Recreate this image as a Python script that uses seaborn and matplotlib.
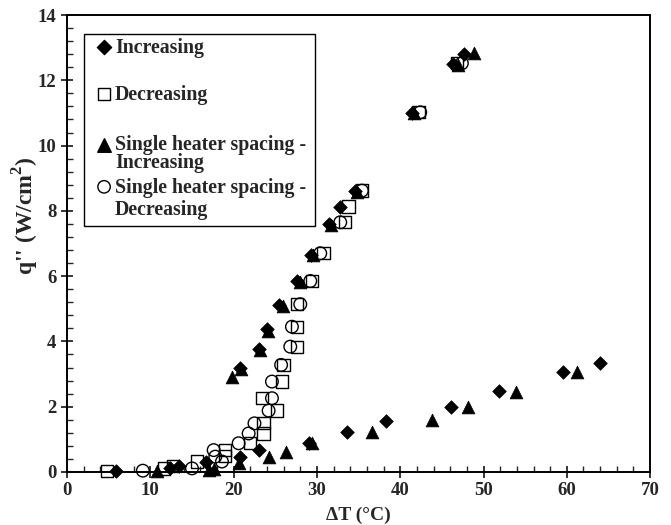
import matplotlib
matplotlib.use("Agg")
import matplotlib.pyplot as plt
import seaborn as sns
import pandas as pd
from matplotlib.patches import Rectangle
from matplotlib.ticker import MultipleLocator

# ---- data ----
inc_x = [5.9, 12.4, 13.4, 16.7, 20.8, 23.1, 29.0, 33.6, 38.3, 46.1, 51.9, 59.5, 64.0,
         20.8, 23.1, 24.0, 25.4, 27.6, 29.3, 31.4, 32.8, 34.6, 41.4, 46.3, 47.6]
inc_y = [0.04, 0.11, 0.18, 0.30, 0.47, 0.67, 0.90, 1.21, 1.57, 2.0, 2.48, 3.05, 3.33,
         3.2, 3.78, 4.38, 5.12, 5.85, 6.65, 7.6, 8.12, 8.6, 11.0, 12.5, 12.8]

dec_x = [4.8, 11.6, 12.7, 15.6, 19.0, 19.0, 22.0, 23.6, 23.6, 23.4, 25.2, 25.8, 26.0, 27.6, 27.6,
         27.6, 29.4, 30.8, 33.4, 33.8, 35.4, 42.2, 46.8]
dec_y = [0.04, 0.11, 0.18, 0.32, 0.5, 0.67, 0.88, 1.18, 1.49, 2.26, 1.88, 2.77, 3.28, 3.84, 4.45,
         5.14, 5.85, 6.70, 7.65, 8.13, 8.62, 11.02, 12.52]

shi_x = [10.8, 17.1, 17.6, 20.6, 24.2, 26.3, 29.4, 36.6, 43.8, 48.1, 53.9, 61.2,
         19.8, 20.9, 23.2, 24.1, 25.9, 28.0, 29.5, 31.7, 34.8, 41.7, 46.9, 48.8]
shi_y = [0.02, 0.06, 0.1, 0.27, 0.46, 0.61, 0.89, 1.24, 1.59, 2.0, 2.46, 3.07,
         2.9, 3.15, 3.73, 4.32, 5.08, 5.82, 6.65, 7.57, 8.57, 11.0, 12.47, 12.85]

shd_x = [9.1, 15.0, 17.6, 17.8, 18.6, 20.6, 21.8, 22.5, 24.2, 24.6, 24.6, 25.7, 26.8, 27.0,
         28.0, 29.2, 30.4, 32.8, 35.4, 42.4, 47.4]
shd_y = [0.04, 0.11, 0.67, 0.47, 0.32, 0.88, 1.18, 1.49, 1.88, 2.26, 2.77, 3.28, 3.84, 4.45,
         5.14, 5.85, 6.70, 7.65, 8.62, 11.02, 12.52]

legend_labels = ["Increasing", "Decreasing",
                 "Single heater spacing -\nIncreasing",
                 "Single heater spacing -\nDecreasing"]
x_label = "\u0394T (\u00b0C)"
y_label = r"q'' (W/cm$^{\mathbf{2}}$)"

# ---- style ----
sns.set_style("ticks")
plt.rcParams["font.family"] = ["Liberation Serif", "DejaVu Serif"]
plt.rcParams["font.weight"] = "bold"
plt.rcParams["mathtext.fontset"] = "custom"
plt.rcParams["mathtext.bf"] = "Liberation Serif:bold"
plt.rcParams["mathtext.rm"] = "Liberation Serif:bold"

fig = plt.figure(figsize=(6.71, 5.25), dpi=100)
ax = fig.add_axes([0.0999, 0.101, 0.869, 0.8704])

styles = [
    (inc_x, inc_y, dict(marker="D", s=48, color="black", edgecolor="black", linewidth=0.5)),
    (dec_x, dec_y, dict(marker="s", s=78, facecolor="none", edgecolor="black", linewidth=1.0)),
    (shi_x, shi_y, dict(marker="^", s=85, color="black", edgecolor="black", linewidth=0.5)),
    (shd_x, shd_y, dict(marker="o", s=82, facecolor="none", edgecolor="black", linewidth=1.0)),
]
for (xs, ys, kw), lab in zip(styles, legend_labels):
    df = pd.DataFrame({"x": xs, "y": ys})
    sns.scatterplot(data=df, x="x", y="y", ax=ax, legend=False, zorder=3, clip_on=False, **kw)

ax.set_xlim(0, 70)
ax.set_ylim(0, 14)
ax.xaxis.set_major_locator(MultipleLocator(10))
ax.xaxis.set_minor_locator(MultipleLocator(2))
ax.yaxis.set_major_locator(MultipleLocator(2))
ax.yaxis.set_minor_locator(MultipleLocator(0.4))
ax.tick_params(which="major", direction="inout", length=9, width=1.3, labelsize=13.5,
               bottom=True, left=True, top=False, right=False, pad=3)
ax.tick_params(which="minor", direction="in", length=4, width=1.0,
               bottom=True, left=True, top=False, right=False)
for lbl in ax.get_xticklabels() + ax.get_yticklabels():
    lbl.set_fontweight("bold")
for sp in ax.spines.values():
    sp.set_visible(True)
    sp.set_linewidth(1.4)
    sp.set_color("black")

ax.set_xlabel(x_label, fontsize=14, fontweight="bold", labelpad=2)
ax.xaxis.set_label_coords(0.5, -0.075)
ax.set_ylabel(y_label, fontsize=17, fontweight="bold")
ax.yaxis.set_label_coords(-0.045, 0.56)

# ---- legend (drawn manually to match layout) ----
box = Rectangle((0.0297, 0.538), 0.3957, 0.420, transform=ax.transAxes, fill=False,
                edgecolor="black", linewidth=1.0, zorder=4)
ax.add_patch(box)
marker_y = [0.931, 0.827, 0.716, 0.624]
text_base = [[0.917], [0.814], [0.705, 0.665], [0.610, 0.562]]
mk = [("D", 52, "black", "black"), ("s", 78, "none", "black"),
      ("^", 95, "black", "black"), ("o", 80, "none", "black")]
for (m, s, fc, ec), my, tys, lab in zip(mk, marker_y, text_base, legend_labels):
    ax.scatter([0.0635], [my], marker=m, s=s, facecolor=fc, edgecolor=ec, linewidth=1.0,
               transform=ax.transAxes, clip_on=False, zorder=5)
    for ty, line in zip(tys, lab.split("\n")):
        ax.text(0.0823, ty, line, transform=ax.transAxes, fontsize=14.3,
                fontweight="bold", va="baseline", ha="left", zorder=5)

fig.savefig("out.png", dpi=100)
